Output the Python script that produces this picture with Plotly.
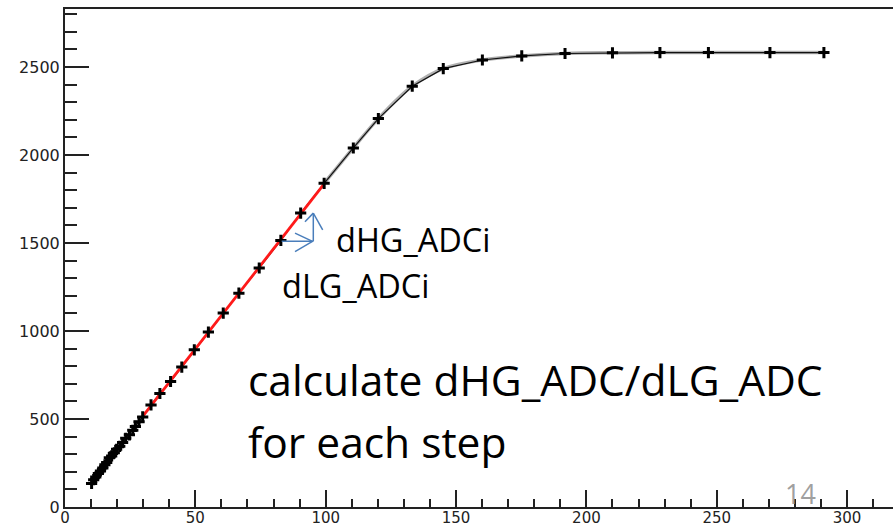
import numpy as np
import plotly.graph_objects as go

# ---- data ----
lg_adc = [10.2, 11.0, 11.8, 12.8, 13.6, 14.5, 15.3, 16.0, 17.0, 17.9, 18.9, 19.8,
          21.0, 22.1, 23.3, 24.7, 26.0, 27.0, 28.4, 29.8, 33.0, 36.4, 40.5, 44.8,
          49.6, 55.0, 60.7, 66.7, 74.5, 82.8, 90.4, 99.4, 110.6, 120.2, 133.2,
          145.1, 160.1, 175.2, 191.8, 210.0, 228.2, 246.8, 270.4, 291.1]
hg_adc = [134, 155, 170, 190, 205, 222, 240, 253, 280, 290, 308, 328,
          345, 366, 390, 410, 436, 458, 485, 512, 580, 645, 713, 795,
          893, 994, 1102, 1215, 1358, 1515, 1670, 1839, 2040, 2207, 2391,
          2491, 2540, 2563, 2577, 2581, 2582, 2582, 2582, 2582]
fit_range = [29.8, 99.4]
x_ticks = [0, 50, 100, 150, 200, 250, 300]
y_ticks = [0, 500, 1000, 1500, 2000, 2500]

W, H = 893, 527
L, R, T, B = 65, 893, 9.3, 507
X_RANGE = [0, (R - L) / 2.607]
Y_RANGE = [0, (B - T) / 0.17588]


def px(xp):
    return (xp - L) / (R - L)


def py(yp):
    return (B - yp) / (B - T)


lg = np.array(lg_adc)
hg = np.array(hg_adc)
mask = (lg >= fit_range[0]) & (lg <= fit_range[1])
slope, icpt = np.polyfit(lg[mask], hg[mask], 1)
fx = np.array(fit_range)
fy = slope * fx + icpt

upper = lg >= fit_range[1]

fig = go.Figure()
fig.add_trace(go.Scatter(x=lg[upper], y=hg[upper], mode="lines",
                         line=dict(color="#b0b0b0", width=3.5, shape="spline"),
                         hoverinfo="skip", showlegend=False))
fig.add_trace(go.Scatter(x=lg, y=hg, mode="lines",
                         line=dict(color="#111111", width=1.2),
                         hoverinfo="skip", showlegend=False))
fig.add_trace(go.Scatter(x=fx, y=fy, mode="lines",
                         line=dict(color="#ff1a1a", width=2.8),
                         showlegend=False))
fig.add_trace(go.Scatter(x=lg, y=hg, mode="markers",
                         marker=dict(symbol="cross-thin", size=8,
                                     line=dict(color="black", width=3)),
                         showlegend=False))

axis_common = dict(showgrid=False, zeroline=False, showline=True, automargin=False,
                   linecolor="#222222", linewidth=2, ticks="inside",
                   tickcolor="#222222", tickwidth=2)

fig.update_xaxes(range=X_RANGE, tickvals=x_ticks, ticklen=17, mirror=True,
                 ticklabelstandoff=-4,
                 tickfont=dict(family="DejaVu Sans", size=15, color="#222222"),
                 minor=dict(dtick=10, ticklen=8, tickwidth=2, tickcolor="#222222",
                            ticks="inside"),
                 **axis_common)
fig.update_yaxes(range=Y_RANGE, tickvals=y_ticks, ticklen=24, mirror=False,
                 tickfont=dict(family="DejaVu Sans", size=16, color="#222222"),
                 minor=dict(dtick=100, ticklen=12, tickwidth=2, tickcolor="#222222",
                            ticks="inside"),
                 **axis_common)

txt_font = "Open Sans"
annos = [
    dict(text="dHG_ADCi", x=px(334), y=py(240), size=32.5, color="black"),
    dict(text="dLG_ADCi", x=px(280), y=py(286), size=32.5, color="black"),
    dict(text="calculate dHG_ADC/dLG_ADC", x=px(246), y=py(380), size=42.5, color="black"),
    dict(text="for each step", x=px(246), y=py(442), size=42.5, color="black"),
    dict(text="14", x=px(783), y=py(494), size=27, color="#a0a0a0"),
]
for a in annos:
    fig.add_annotation(text=a["text"], x=a["x"], y=a["y"], xref="paper", yref="paper",
                       xanchor="left", yanchor="middle", showarrow=False,
                       font=dict(family=txt_font, size=a["size"], color=a["color"]))

# blue illustrative arrows
blue = "#4a7ebb"
segs = [
    ((281.7, 241.5), (313.3, 241.5)),
    ((295.0, 233.3), (312.5, 241.5)),
    ((295.0, 251.7), (312.5, 241.5)),
    ((313.3, 241.5), (313.3, 213.3)),
    ((305.0, 222.0), (313.3, 213.3)),
    ((322.7, 230.0), (313.3, 213.3)),
]
for (x0, y0), (x1, y1) in segs:
    fig.add_shape(type="line", xref="paper", yref="paper",
                  x0=px(x0), y0=py(y0), x1=px(x1), y1=py(y1),
                  line=dict(color=blue, width=1.5))

fig.update_layout(width=W, height=H, plot_bgcolor="white", paper_bgcolor="white",
                  margin=dict(l=L, r=W - R, t=T, b=H - B), showlegend=False)

fig.write_html("out.html", config={"displayModeBar": False},
               post_script="document.body.style.margin='0px';"
                           "document.body.style.overflow='hidden';")
